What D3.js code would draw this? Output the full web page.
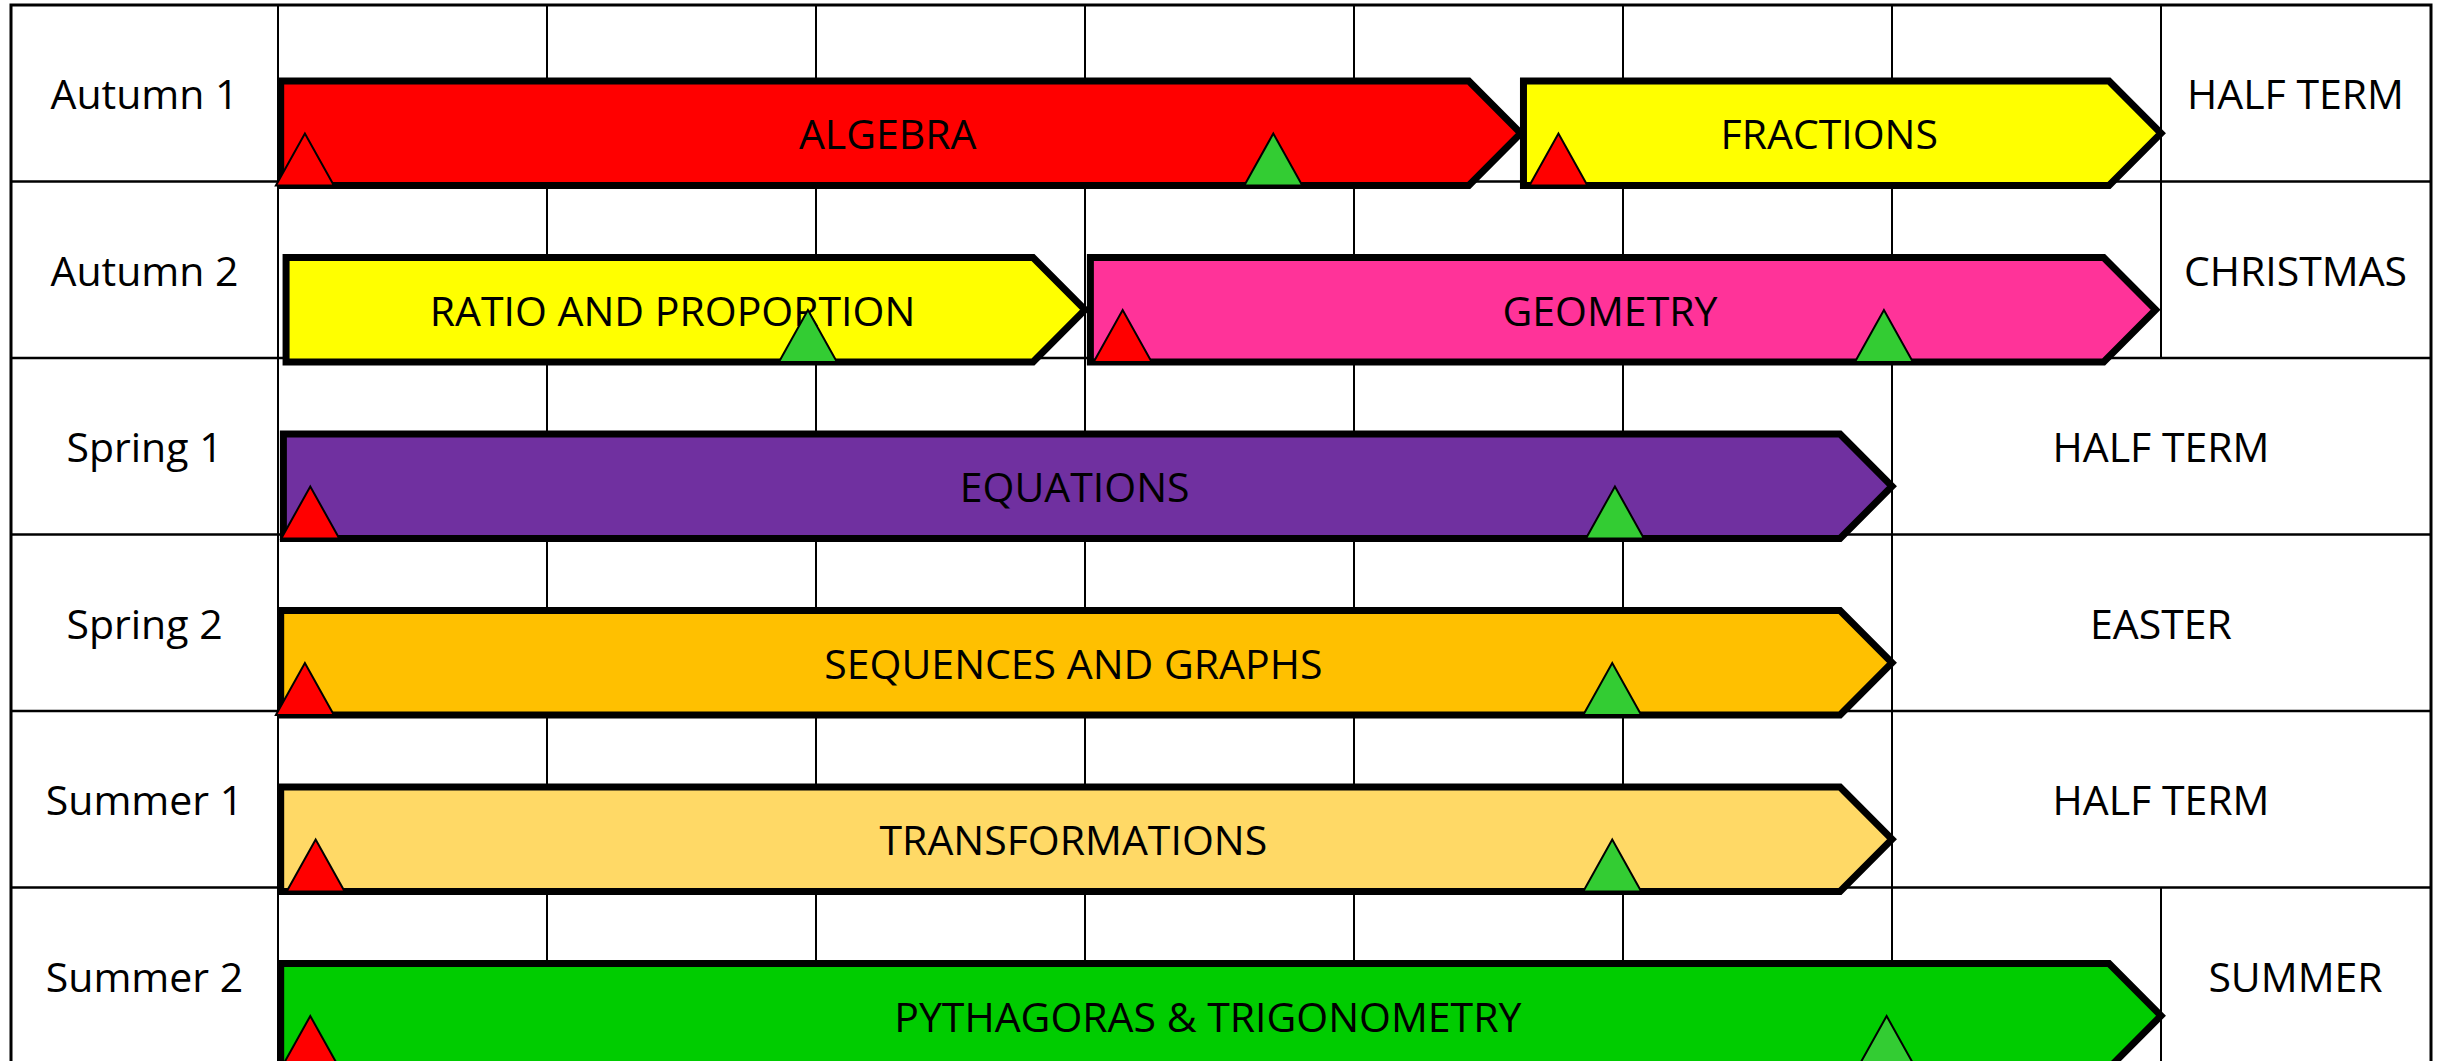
<!DOCTYPE html>
<html>
<head>
<meta charset="utf-8">
<script src="https://cdn.jsdelivr.net/npm/d3@7"></script>
<style>
  body { margin: 0; background: #fff; }
  svg { display: block; }
  text { font-family: "Open Sans", sans-serif; fill: #000; }
</style>
</head>
<body>
<div class="chart-container"></div>
<script>
/* Data
   ========================================================================== */

// Half terms down the left side
var terms = ["Autumn 1", "Autumn 2", "Spring 1", "Spring 2", "Summer 1", "Summer 2"];

// Holiday after each half term and the week it starts
var breaks = ["HALF TERM", "CHRISTMAS", "HALF TERM", "EASTER", "HALF TERM", "SUMMER"];
var breakStart = [7, 7, 6, 6, 6, 7];

// Topics (weeks measured from the start of the half term)
var topicNames = ["ALGEBRA", "FRACTIONS", "RATIO AND PROPORTION", "GEOMETRY", "EQUATIONS",
    "SEQUENCES AND GRAPHS", "TRANSFORMATIONS", "PYTHAGORAS & TRIGONOMETRY"];
var topicTerm = ["Autumn 1", "Autumn 1", "Autumn 2", "Autumn 2", "Spring 1",
    "Spring 2", "Summer 1", "Summer 2"];
var topicStart = [0.01, 4.63, 0.03, 3.02, 0.02, 0.01, 0.01, 0.01];
var topicEnd = [4.62, 7, 3, 6.98, 6, 6, 6, 7];
var topicColor = ["#ff0000", "#ffff00", "#ffff00", "#ff3399", "#7030a0",
    "#ffc000", "#ffd966", "#00cc00"];

// Assessment markers: red = baseline, green = end of unit test
var markTerm = ["Autumn 1", "Autumn 1", "Autumn 1", "Autumn 2", "Autumn 2", "Autumn 2",
    "Spring 1", "Spring 1", "Spring 2", "Spring 2", "Summer 1", "Summer 1", "Summer 2", "Summer 2"];
var markWeek = [0.1, 3.7, 4.76, 1.97, 3.14, 5.97, 0.12, 4.97, 0.1, 4.96, 0.14, 4.96, 0.12, 5.98];
var markType = ["red", "green", "red", "green", "red", "green", "red", "green",
    "red", "green", "red", "green", "red", "green"];
var markColor = { red: "#ff0000", green: "#33cc33" };

/* Chart
   ========================================================================== */

var width = 2438,
    height = 1061,
    tableLeft = 11,
    tableRight = 2431,
    tableTop = 5,
    rowH = 176.5;

var x = d3.scaleLinear()
    .domain([0, 8])
    .range([278, 2430]);

var y = d3.scaleBand()
    .domain(terms)
    .range([tableTop, tableTop + rowH * terms.length]);

var svg = d3.select(".chart-container").append("svg")
    .attr("width", width)
    .attr("height", height);

// Week grid lines, one set per row, stopping where the holiday starts
terms.forEach(function(t, i) {
    svg.append("g")
        .attr("transform", "translate(0," + y(t) + ")")
        .selectAll("line")
        .data(d3.range(0, breakStart[i] + 1))
        .enter().append("line")
        .attr("x1", function(d) { return x(d); })
        .attr("x2", function(d) { return x(d); })
        .attr("y1", 0)
        .attr("y2", rowH)
        .attr("stroke", "#000")
        .attr("stroke-width", 2);
});

// Row lines
svg.selectAll(".row-line")
    .data(terms.slice(1))
    .enter().append("line")
    .attr("class", "row-line")
    .attr("x1", tableLeft)
    .attr("x2", tableRight)
    .attr("y1", function(d) { return y(d); })
    .attr("y2", function(d) { return y(d); })
    .attr("stroke", "#000")
    .attr("stroke-width", 2.5);

// Outer border
svg.append("rect")
    .attr("x", tableLeft)
    .attr("y", tableTop)
    .attr("width", tableRight - tableLeft)
    .attr("height", rowH * terms.length)
    .attr("fill", "none")
    .attr("stroke", "#000")
    .attr("stroke-width", 3);

// Term names
svg.selectAll(".term")
    .data(terms)
    .enter().append("text")
    .attr("class", "term")
    .attr("x", (tableLeft + x(0)) / 2)
    .attr("y", function(d) { return y(d) + rowH / 2; })
    .attr("text-anchor", "middle")
    .attr("dominant-baseline", "central")
    .style("font-size", "41px")
    .text(function(d) { return d; });

// Holidays
svg.selectAll(".break")
    .data(breaks)
    .enter().append("text")
    .attr("class", "break")
    .attr("x", function(d, i) { return (x(breakStart[i]) + x(8)) / 2; })
    .attr("y", function(d, i) { return y(terms[i]) + rowH / 2; })
    .attr("text-anchor", "middle")
    .attr("dominant-baseline", "central")
    .style("font-size", "41px")
    .text(function(d) { return d; });

// Topic arrows
var tip = 52;
function barTop(t) { return y(t) + 76; }
function barBottom(t) { return y(t) + rowH + 4; }

svg.selectAll(".topic")
    .data(topicNames)
    .enter().append("path")
    .attr("class", "topic")
    .attr("d", function(d, i) {
        var s = x(topicStart[i]), e = x(topicEnd[i]),
            t0 = barTop(topicTerm[i]), t1 = barBottom(topicTerm[i]);
        return "M" + s + "," + t0 +
            "L" + (e - tip) + "," + t0 +
            "L" + e + "," + (t0 + t1) / 2 +
            "L" + (e - tip) + "," + t1 +
            "L" + s + "," + t1 + "Z";
    })
    .attr("fill", function(d, i) { return topicColor[i]; })
    .attr("stroke", "#000")
    .attr("stroke-width", 7)
    .attr("stroke-linejoin", "miter");

svg.selectAll(".topic-label")
    .data(topicNames)
    .enter().append("text")
    .attr("class", "topic-label")
    .attr("x", function(d, i) { return (x(topicStart[i]) + x(topicEnd[i]) - tip / 2) / 2; })
    .attr("y", function(d, i) { return (barTop(topicTerm[i]) + barBottom(topicTerm[i])) / 2; })
    .attr("text-anchor", "middle")
    .attr("dominant-baseline", "central")
    .style("font-size", "41px")
    .text(function(d) { return d; });

// Assessment triangles
var triW = 58, triH = 52;
svg.selectAll(".mark")
    .data(markWeek)
    .enter().append("path")
    .attr("class", "mark")
    .attr("d", function(d, i) {
        var c = x(d), b = barBottom(markTerm[i]);
        return "M" + (c - triW / 2) + "," + b +
            "L" + c + "," + (b - triH) +
            "L" + (c + triW / 2) + "," + b + "Z";
    })
    .attr("fill", function(d, i) { return markColor[markType[i]]; })
    .attr("stroke", "#000")
    .attr("stroke-width", 2);
</script>
</body>
</html>
